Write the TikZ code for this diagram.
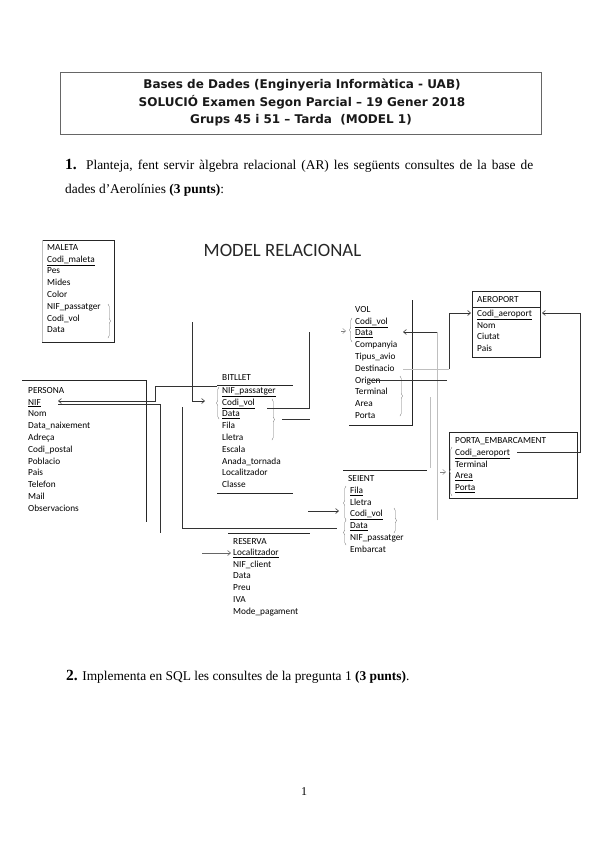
\documentclass[tikz,border=0pt]{standalone}
\usepackage{fontspec}
\setmainfont{Liberation Serif}
\newfontfamily\carl{Carlito}
\newfontfamily\titlef{DejaVu Sans}
\usetikzlibrary{arrows.meta,decorations.pathreplacing}
\tikzset{
  attr/.style={anchor=west,inner sep=0pt,text height=6.5pt,text depth=2pt,font=\carl\fontsize{9.3}{10}\selectfont,text=black},
  titleln/.style={inner sep=0pt,font=\titlef\bfseries\fontsize{12}{13}\selectfont,text=black!90},
  bodyln/.style={anchor=west,inner sep=0pt,text height=9pt,text depth=3pt,font=\fontsize{13.4}{15}\selectfont},
  edge/.style={line width=0.8pt,black!85},
  conn/.style={line width=0.6pt,black!80},
  faint/.style={line width=0.5pt,black!25},
  tip/.style={-{Straight Barb[length=3pt,width=5pt]}},
  brc/.style={decorate,decoration={brace,amplitude=2.5pt},line width=0.4pt,black!55},
}
\newcommand{\rows}[3]{% x, first y, list
  \foreach \t [count=\i from 0] in {#3} {\node[attr] at (#1,#2+11.8*\i) {\t};}}
\begin{document}
\begin{tikzpicture}[x=1pt,y=-1pt]
\useasboundingbox[fill=white] (0,0) rectangle (599,848);

% ---------- header ----------
\draw[line width=0.8pt,black!60] (60,72) rectangle (541,134);
\node[titleln] (t1) at (302,85) {Bases de Dades (Enginyeria Informàtica - UAB)};
\node[titleln] (t2) at (302,102.5) {SOLUCIÓ Examen Segon Parcial – 19 Gener 2018};
\node[titleln] (t3) at (301,120) {Grups 45 i 51 – Tarda\ \ (MODEL 1)};

\node[bodyln] (q1a) at (65,166) {\makebox[468pt][s]{{\fontsize{15.5}{15}\selectfont\bfseries 1.} Planteja, fent servir àlgebra relacional (AR) les següents consultes de la base de}};
\node[bodyln] (q1b) at (65,190) {dades d'Aerolínies \textbf{(3 punts)}:};

\node[inner sep=0pt,font=\carl\fontsize{18.8}{20}\selectfont,text=black!85] (mr) at (282.5,250) {MODEL RELACIONAL};

% ---------- MALETA ----------
\draw[edge] (42,240) -- (114,240) -- (114,342) -- (42,342);
\draw[faint] (42,240) -- (42,342);
\rows{47}{248}{MALETA,\underline{Codi\_maleta},Pes,Mides,Color,NIF\_passatger,Codi\_vol,Data}
\draw[brc] (108,304) -- (108,338);

% ---------- PERSONA ----------
\draw[edge] (22,380) -- (146,380) -- (146,522);
\rows{28}{391}{PERSONA,\underline{NIF},Nom,Data\_naixement,Adreça,Codi\_postal,Poblacio,Pais,Telefon,Mail,Observacions}

% ---------- BITLLET ----------
\draw[edge] (217,385) -- (293,385);
\draw[edge] (217,493) -- (293,493);
\rows{222}{378}{BITLLET}
\rows{222}{391}{\underline{NIF\_passatger},\underline{Codi\_vol},\underline{Data},Fila,Lletra,Escala,Anada\_tornada,Localitzador,Classe}
\draw[brc] (219,419) -- (219,387);
\draw[brc] (272,399) -- (272,440);

% ---------- VOL ----------
\draw[edge] (412,300) -- (412,425) -- (349,425);
\rows{355}{310}{VOL,\underline{Codi\_vol},\underline{Data},Companyia,Tipus\_avio,Destinacio,Origen,Terminal,Area,Porta}
\draw[brc] (352,342) -- (352,318);
\draw[tip,black!50,line width=0.4pt] (341,331) -- (346,331);
\draw[brc] (400,376) -- (400,416);

% ---------- AEROPORT ----------
\draw[edge] (472,291) rectangle (540,357);
\draw[edge] (472,307) -- (540,307);
\rows{477}{300}{AEROPORT}
\rows{477}{314}{\underline{Codi\_aeroport},Nom,Ciutat,Pais}

% ---------- PORTA_EMBARCAMENT ----------
\draw[edge] (449,432) rectangle (577,498);
\rows{455}{441}{PORTA\_EMBARCAMENT}
\rows{455}{453}{\underline{Codi\_aeroport},Terminal,\underline{Area},\underline{Porta}}
\draw[brc] (452,496) -- (452,447);
\draw[tip,black!50,line width=0.4pt] (440,472) -- (446,472);

% ---------- SEIENT ----------
\draw[edge] (343,470) -- (427,470);
\draw[faint] (430,397) -- (430,468);
\rows{348}{479}{SEIENT}
\rows{350}{491}{\underline{Fila},Lletra,\underline{Codi\_vol},\underline{Data},NIF\_passatger,Embarcat}
\draw[brc] (346,520) -- (346,486);
\draw[brc] (346,545) -- (346,520);
\draw[brc] (394,508) -- (394,533);

% ---------- RESERVA ----------
\draw[edge] (228,533) -- (310,533);
\rows{233}{542}{RESERVA}
\rows{233}{553}{\underline{Localitzador},NIF\_client,Data,Preu,IVA,Mode\_pagament}

% ---------- connectors ----------
\draw[conn,tip] (217,386) -- (155,386) -- (155,401) -- (58,401);
\draw[conn] (58,404) -- (160,404) -- (160,533);
\draw[conn,tip] (192,322) -- (192,401) -- (205,401);
\draw[conn] (182,407) -- (182,528) -- (337,528);
\draw[conn] (267,408) -- (309,408) -- (309,332);
\draw[conn] (282,419) -- (310,419);
\draw[conn,tip] (308,511) -- (339,511);
\draw[faint] (437,520) -- (437,332);
\draw[conn,tip] (437,332) -- (403,332);
\draw[faint] (403,369) -- (449,369);
\draw[conn,tip] (449,369) -- (449,313) -- (471,313);
\draw[conn] (370,380) -- (447,380);
\draw[conn,tip] (517,452) -- (580,452) -- (580,313) -- (542,313);
\draw[conn,tip,black!60] (202,553) -- (231,553);

% ---------- question 2 ----------
\node[bodyln] (q2) at (66,677) {{\fontsize{15.5}{15}\selectfont\bfseries 2.} Implementa en SQL les consultes de la pregunta 1 \textbf{(3 punts)}.};
\node[inner sep=0pt,font=\fontsize{12}{14}\selectfont] (pg) at (304,792) {1};
\end{tikzpicture}
\end{document}
